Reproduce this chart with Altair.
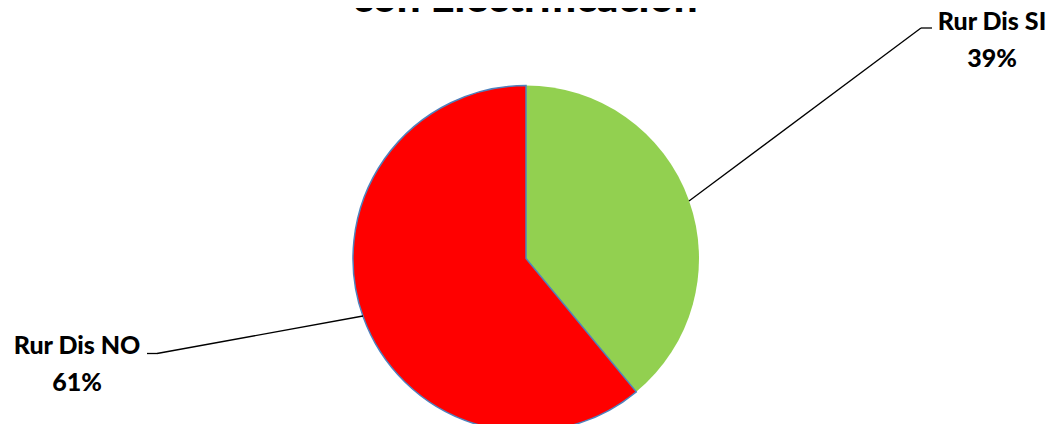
import altair as alt
import pandas as pd

categories = ["Rur Dis SI", "Rur Dis NO"]
values = [39, 61]
slice_colors = ["#92D050", "#FF0000"]
slice_strokes = ["transparent", "#4F81BD"]
title_text = "con Electrificación"

df = pd.DataFrame({"cat": categories, "val": values, "order": [0, 1]})

FONT = "Lato"
W, H = 1041, 416
CX, CY, R = 518, 250.5, 173

base = alt.Chart(df)

pie = base.mark_arc(outerRadius=R, strokeWidth=1.5).encode(
    theta=alt.Theta("val:Q", stack=True),
    order=alt.Order("order:Q"),
    color=alt.Color("cat:N", scale=alt.Scale(domain=categories, range=slice_colors), legend=None),
    stroke=alt.Stroke("cat:N", scale=alt.Scale(domain=categories, range=slice_strokes), legend=None),
    x=alt.value(CX),
    y=alt.value(CY),
)

def label(cat, x, y):
    return base.transform_filter(alt.datum.cat == cat).transform_calculate(
        lab=alt.datum.cat + "\n" + alt.datum.val + "%"
    ).mark_text(
        font=FONT, fontWeight=900, fontSize=25, align="center", baseline="alphabetic",
        lineBreak="\n", lineHeight=37, color="#000000"
    ).encode(text="lab:N", x=alt.value(x), y=alt.value(y))

lab_si = label("Rur Dis SI", 984, 22)
lab_no = label("Rur Dis NO", 69, 346)

def seg(x1, y1, x2, y2):
    return base.transform_filter(alt.datum.order == 0).mark_rule(color="#000000", strokeWidth=1.3).encode(
        x=alt.value(x1), y=alt.value(y1), x2=alt.value(x2), y2=alt.value(y2)
    )

lines = [
    seg(681, 193, 913, 20), seg(913, 20, 924, 20),
    seg(355, 308, 149, 345.5), seg(149, 345.5, 139, 345.5),
]

title = base.transform_filter(alt.datum.order == 0).mark_text(
    font=FONT, fontWeight=900, fontSize=42, align="center", baseline="alphabetic", color="#000000"
).encode(text=alt.value(title_text), x=alt.value(517), y=alt.value(3.5))

chart = alt.layer(pie, *lines, lab_si, lab_no, title).properties(
    width=W, height=H, autosize=alt.AutoSizeParams(type="none"), padding=0
).configure_view(stroke=None)

chart.save("out.html", embed_options={"renderer": "svg", "actions": False})
